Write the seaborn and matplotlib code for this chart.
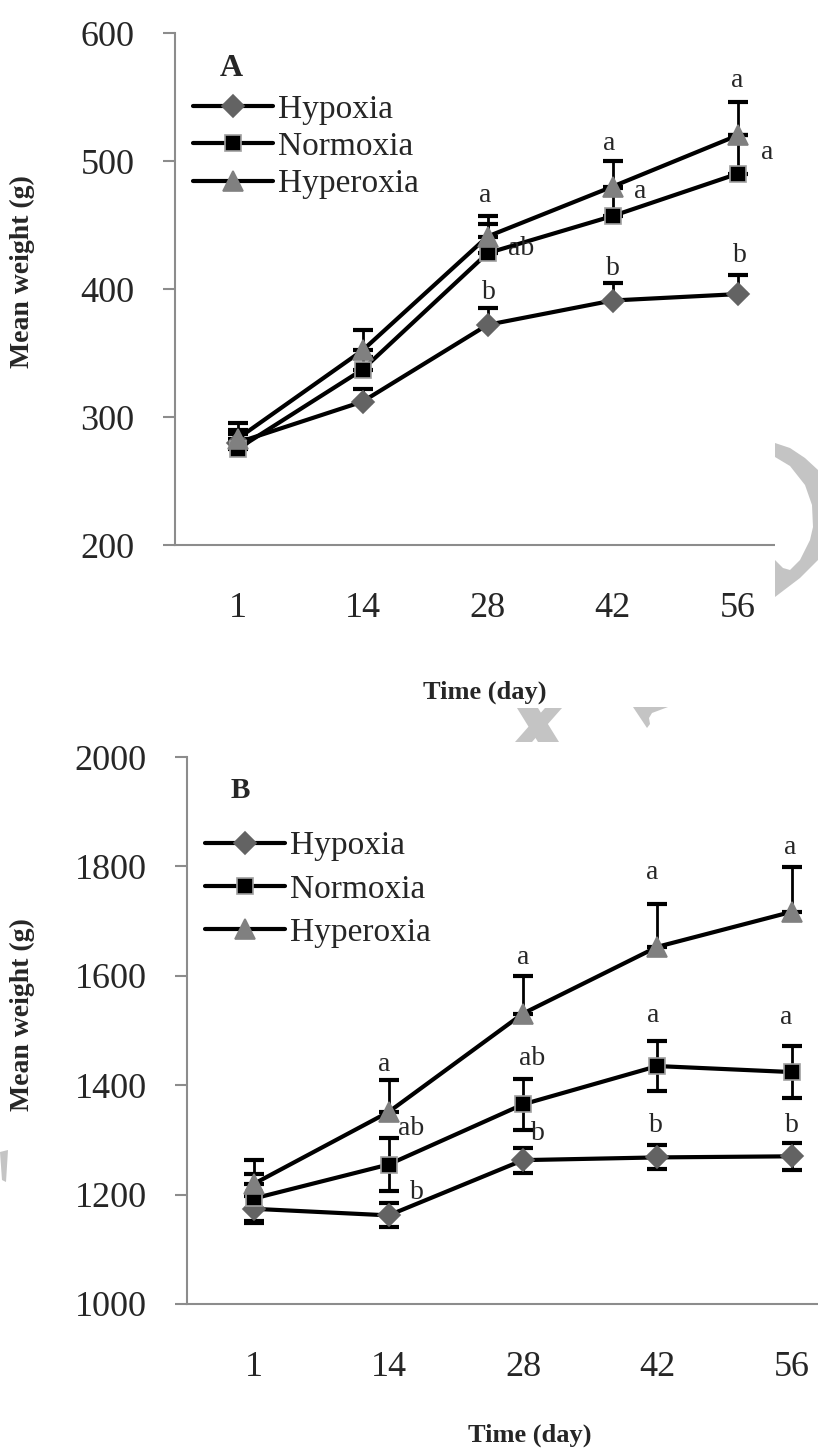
import numpy as np
import pandas as pd
import matplotlib
matplotlib.use("Agg")
import matplotlib.pyplot as plt
import seaborn as sns
from matplotlib.lines import Line2D
from matplotlib.patches import Polygon

# ---------------------------------------------------------------------------
# data (mean weight and SE per sampling day)
# ---------------------------------------------------------------------------
days = ["1", "14", "28", "42", "56"]
groups = ["Hypoxia", "Normoxia", "Hyperoxia"]

# panel A
a_hypoxia = [280, 312, 372, 391, 396]
a_normoxia = [275, 337, 428, 457, 490]
a_hyperoxia = [283, 352, 441, 480, 520]
a_hypoxia_se = [10, 10, 13, 14, 15]
a_normoxia_se = [12, 10, 23, 22, 30]
a_hyperoxia_se = [12, 16, 16, 20, 26]

# panel B
b_hypoxia = [1174, 1162, 1263, 1268, 1270]
b_normoxia = [1193, 1255, 1365, 1435, 1424]
b_hyperoxia = [1220, 1351, 1531, 1653, 1717]
b_hypoxia_se = [23, 22, 23, 22, 25]
b_normoxia_se = [45, 48, 46, 46, 47]
b_hyperoxia_se = [44, 58, 68, 78, 82]

# significance letters (x in category units, y in grams)
a_letters = ["a", "ab", "b", "a", "a", "b", "a", "a", "b"]
a_letter_x = [1.98, 2.27, 2.01, 2.97, 3.22, 3.00, 4.00, 4.24, 4.02]
a_letter_y = [473, 432, 397, 514, 476, 416, 563, 507, 426]

b_letters = ["a", "ab", "b", "a", "ab", "b", "a", "a", "b", "a", "a", "b"]
b_letter_x = [0.97, 1.17, 1.21, 2.00, 2.07, 2.11, 2.96, 2.97, 2.99, 3.99, 3.96, 4.00]
b_letter_y = [1437, 1321, 1204, 1634, 1449, 1312, 1788, 1528, 1327, 1835, 1524, 1327]

# ---------------------------------------------------------------------------
# style
# ---------------------------------------------------------------------------
sns.set_style("white")
plt.rcParams["font.family"] = ["Liberation Serif", "DejaVu Serif"]

AXIS_GREY = "#8c8c8c"
marker_style = {
    "Hypoxia": dict(marker="D", markersize=11, markerfacecolor="#636363", markeredgecolor="#636363"),
    "Normoxia": dict(marker="s", markersize=12, markerfacecolor="black", markeredgecolor="#a0a0a0"),
    "Hyperoxia": dict(marker="^", markersize=14, markerfacecolor="#808080", markeredgecolor="#808080"),
}


def long_frame(series):
    rows = []
    for g, vals in zip(groups, series):
        for i, v in enumerate(vals):
            rows.append({"pos": i, "day": days[i], "group": g, "weight": v})
    return pd.DataFrame(rows)


def draw_panel(ax, series, ses, both_sides, ylim, yticks, letters, lx, ly, tag, leg_anchor, leg_spacing):
    df = long_frame(series)

    # error bars sit under the lines and markers
    for g, se, both in zip(groups, ses, both_sides):
        sub = df[df["group"] == g]
        lower = se if both else [0] * len(se)
        ax.errorbar(sub["pos"], sub["weight"], yerr=[lower, se], fmt="none",
                    ecolor="black", elinewidth=2, capsize=7, capthick=3, zorder=1.5)

    for g in groups:
        sns.lineplot(data=df[df["group"] == g], x="pos", y="weight", ax=ax,
                     color="black", lw=3, markeredgewidth=1.2, zorder=2,
                     **marker_style[g])

    for t, x, y in zip(letters, lx, ly):
        ax.text(x, y, t, ha="center", va="center", fontsize=20)

    ax.set_xlim(-0.5, 4.5)
    ax.set_ylim(*ylim)
    ax.set_yticks(yticks)
    ax.set_xticks(range(len(days)))
    ax.set_xticklabels(days)
    ax.set_xticks(np.arange(-0.5, 5, 1), minor=True)
    ax.tick_params(axis="x", which="major", length=0, pad=34, labelsize=26)
    ax.tick_params(axis="x", which="minor", length=9, width=1.5, color=AXIS_GREY, direction="out")
    ax.tick_params(axis="y", which="major", length=9, width=1.5, color=AXIS_GREY,
                   direction="out", pad=20, labelsize=26, left=True)
    ax.set_xlabel("")
    ax.set_ylabel("")
    for side in ["top", "right"]:
        ax.spines[side].set_visible(False)
    for side in ["left", "bottom"]:
        ax.spines[side].set_color(AXIS_GREY)
        ax.spines[side].set_linewidth(1.5)

    handles = [Line2D([0], [0], color="black", lw=3, markeredgewidth=1.2, **marker_style[g]) for g in groups]
    ax.legend(handles, groups, loc="upper left", bbox_to_anchor=leg_anchor, frameon=False,
              fontsize=24, handlelength=2.4, handletextpad=0.15, labelspacing=leg_spacing,
              borderpad=0, borderaxespad=0, numpoints=1)
    ax.text(tag[1], tag[2], tag[0], transform=ax.transAxes, ha="center", va="center",
            fontsize=tag[3], fontweight="bold")


fig = plt.figure(figsize=(8.18, 14.5), dpi=100)
W, H = 818, 1450


def fig_box(left, top, right, bottom):
    return [left / W, 1 - bottom / H, (right - left) / W, (bottom - top) / H]


ax_a = fig.add_axes(fig_box(175, 33, 800, 545))
ax_b = fig.add_axes(fig_box(187, 757, 859, 1304))

draw_panel(ax_a, [a_hypoxia, a_normoxia, a_hyperoxia],
           [a_hypoxia_se, a_normoxia_se, a_hyperoxia_se], [False, False, False],
           (200, 600), range(200, 601, 100), a_letters, a_letter_x, a_letter_y,
           ("A", (231 - 175) / 625, (545 - 68) / 512, 23), (0.029, 0.88), 0.2)
draw_panel(ax_b, [b_hypoxia, b_normoxia, b_hyperoxia],
           [b_hypoxia_se, b_normoxia_se, b_hyperoxia_se], [True, True, False],
           (1000, 2000), range(1000, 2001, 200), b_letters, b_letter_x, b_letter_y,
           ("B", (240 - 187) / 672, (1304 - 790) / 547, 21), (0.027, 0.865), 0.38)

# axis titles
fig.text(22 / W, 1 - 272 / H, "Mean weight (g)", rotation=90, ha="center", va="center",
         fontsize=20, fontweight="bold")
fig.text(22 / W, 1 - 1015 / H, "Mean weight (g)", rotation=90, ha="center", va="center",
         fontsize=20, fontweight="bold")
fig.text(485 / W, 1 - 692 / H, "Time (day)", ha="center", va="center", fontsize=19, fontweight="bold")
fig.text(530 / W, 1 - 1435 / H, "Time (day)", ha="center", va="center", fontsize=19, fontweight="bold")

# grey watermark fragments left on the scanned page
WM = "#c4c4c4"


def px_poly(pts, color):
    xy = [(x / W, 1 - y / H) for x, y in pts]
    fig.add_artist(Polygon(xy, closed=True, transform=fig.transFigure, facecolor=color,
                           edgecolor="none", zorder=5))


px_poly([(775, 430), (818, 430), (818, 610), (775, 610)], "white")
px_poly([(775, 443), (790, 448), (805, 458), (818, 470), (818, 560), (800, 578), (775, 597),
         (775, 560), (783, 568), (790, 570), (800, 560), (810, 540), (813, 527), (812, 505),
         (805, 485), (790, 466), (775, 457)], WM)
px_poly([(517, 708), (538, 708), (559, 742), (538, 742)], WM)
px_poly([(545, 708), (562, 708), (532, 742), (515, 742)], WM)
px_poly([(633, 707), (668, 707), (652, 713), (649, 718), (650, 724), (647, 728)], WM)
px_poly([(0, 1152), (8, 1150), (6, 1182), (2, 1180)], WM)

plt.savefig("out.png", dpi=100)
plt.close()
